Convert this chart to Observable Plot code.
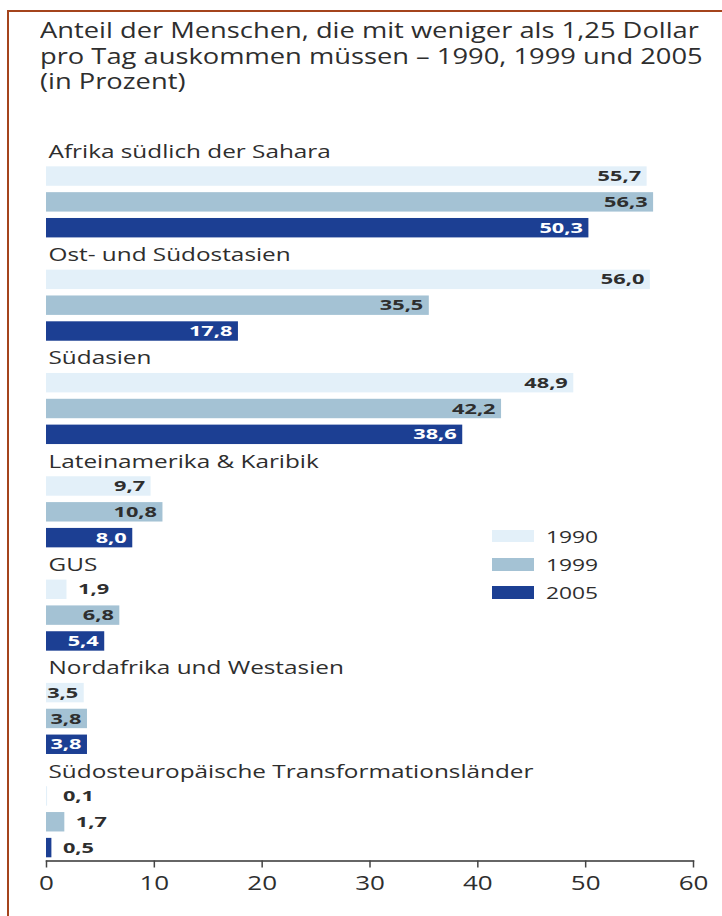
<!DOCTYPE html>
<html><head><meta charset="utf-8">
<script src="https://cdn.jsdelivr.net/npm/d3@7"></script>
<script src="https://cdn.jsdelivr.net/npm/@observablehq/plot@0.6"></script>
<style>
body{margin:0;background:#fff;}
#wrap{position:relative;width:722px;height:916px;overflow:hidden;font-family:"Open Sans",sans-serif;color:#2e2e2e;}
#frame{position:absolute;left:7px;top:10px;right:-5px;bottom:-5px;border-top:2px solid #a4441c;border-left:2px solid #a4441c;}
#title{position:absolute;left:40px;top:18px;font-size:21px;line-height:25.5px;white-space:nowrap;transform:scaleX(1.3);transform-origin:0 0;}
#chart{position:absolute;left:0;top:130px;}
#legend{position:absolute;left:492px;top:522px;}
.li{display:flex;align-items:center;height:28.3px;font-size:17px;}
.sw{width:42px;height:12.5px;margin-right:12px;}
.lt{display:inline-block;transform:scaleX(1.34);transform-origin:0 50%;}
</style></head>
<body>
<div id="wrap">
  <div id="frame"></div>
  <div id="title">Anteil der Menschen, die mit weniger als 1,25 Dollar<br>pro Tag auskommen müssen – 1990, 1999 und 2005<br>(in Prozent)</div>
  <div id="chart"></div>
  <div id="legend"></div>
</div>
<script>
const regions = ["Afrika südlich der Sahara", "Ost- und Südostasien", "Südasien", "Lateinamerika & Karibik", "GUS", "Nordafrika und Westasien", "Südosteuropäische Transformationsländer"];
const years = ["1990", "1999", "2005"];
const v1990 = [55.7, 56.0, 48.9, 9.7, 1.9, 3.5, 0.1];
const v1999 = [56.3, 35.5, 42.2, 10.8, 6.8, 3.8, 1.7];
const v2005 = [50.3, 17.8, 38.6, 8.0, 5.4, 3.8, 0.5];
const xTicks = [0, 10, 20, 30, 40, 50, 60];
const colors = ["#e3f0f9", "#a4c2d4", "#1c3f93"];

const series = [v1990, v1999, v2005];
const rows = [];
const labelRows = [];
const bars = [];
const fmt = v => d3.format(".1f")(v).replace(".", ",");
regions.forEach((r, i) => {
  rows.push(r + "|label");
  labelRows.push({name: r, row: r + "|label"});
  years.forEach((y, j) => {
    rows.push(r + "|" + y);
    bars.push({region: r, year: y, row: r + "|" + y, value: series[j][i], label: fmt(series[j][i])});
  });
});
const inside = d => d.value >= 3;

const chart = Plot.plot({
  width: 722,
  height: 786,
  marginLeft: 46,
  marginRight: 29,
  marginTop: 7.3,
  marginBottom: 55.5,
  style: {fontFamily: "'Open Sans', sans-serif", color: "#2e2e2e", background: "transparent"},
  x: {domain: [0, 60]},
  y: {domain: rows, axis: null, padding: 0, round: false},
  color: {domain: years, range: colors},
  marks: [
    Plot.barX(bars, {x: "value", y: "row", fill: "year", insetTop: 3.2, insetBottom: 3.2}),
    Plot.text(bars.filter(d => inside(d) && d.year !== "2005"), {x: "value", y: "row", text: "label", textAnchor: "end", dx: -6, fill: "#2e2e2e", fontWeight: 700, fontSize: 14.5}),
    Plot.text(bars.filter(d => inside(d) && d.year === "2005"), {x: "value", y: "row", text: "label", textAnchor: "end", dx: -6, fill: "white", fontWeight: 700, fontSize: 14.5}),
    Plot.text(bars.filter(d => !inside(d)), {x: d => Math.max(d.value, 0.5), y: "row", text: "label", textAnchor: "start", dx: 11, fill: "#2e2e2e", fontWeight: 700, fontSize: 14.5}),
    Plot.text(labelRows, {x: 0, y: "row", text: "name", textAnchor: "start", dx: 2, dy: 1, fill: "#2e2e2e", fontSize: 19}),
    Plot.frame({anchor: "bottom", stroke: "#333", strokeWidth: 1.5}),
    Plot.axisX({ticks: xTicks, tickSize: 7, tickPadding: 8, fontSize: 20, tickFormat: d => d, stroke: "#444", strokeWidth: 1.5, fill: "#2e2e2e", label: null})
  ]
});
document.getElementById("chart").appendChild(chart);

// horizontal stretch of the text glyphs, as in the reference
const stretch = {"19px": 1.28, "14.5px": 1.5, "20px": 1.3};
chart.querySelectorAll("text").forEach(t => {
  const k = stretch[getComputedStyle(t).fontSize];
  if (!k) return;
  const len = t.getComputedTextLength();
  t.setAttribute("textLength", len * k);
  t.setAttribute("lengthAdjust", "spacingAndGlyphs");
});

const legend = document.getElementById("legend");
years.forEach((y, j) => {
  const li = document.createElement("div");
  li.className = "li";
  li.innerHTML = `<span class="sw" style="background:${colors[j]}"></span><span class="lt">${y}</span>`;
  legend.appendChild(li);
});
</script>
</body></html>
